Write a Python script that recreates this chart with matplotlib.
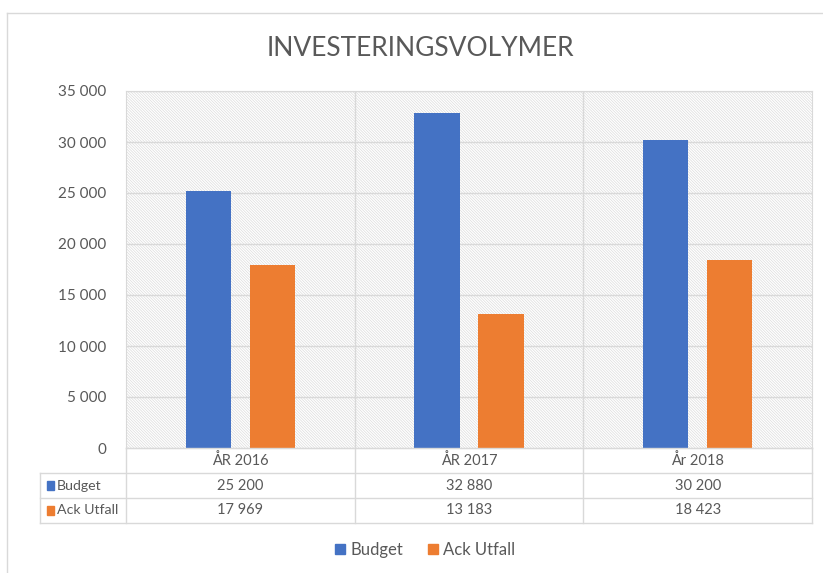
import matplotlib
matplotlib.use("Agg")
import matplotlib.pyplot as plt
from matplotlib.patches import Rectangle
from matplotlib.lines import Line2D

plt.rcParams['font.family'] = ['Lato', 'DejaVu Sans']
plt.rcParams['hatch.linewidth'] = 0.5

# data
years = ["ÅR 2016", "ÅR 2017", "År 2018"]
series_names = ["Budget", "Ack Utfall"]
budget = [25200, 32880, 30200]
utfall = [17969, 13183, 18423]
yticks = [0, 5000, 10000, 15000, 20000, 25000, 30000, 35000]

blue = '#4472c4'
orange = '#ed7d31'
grid = '#d9d9d9'
txt = '#595959'

W, H = 823, 573
fig = plt.figure(figsize=(W / 100, H / 100), dpi=100)

def px(x0, y0, x1, y1):
    # pixel box -> figure fraction rect
    return [x0 / W, 1 - y1 / H, (x1 - x0) / W, (y1 - y0) / H]

# outer border of chart
fig.add_artist(Line2D([7 / W, 7 / W], [0, 1 - 13 / H], color=grid, lw=1))
fig.add_artist(Line2D([7 / W, 1], [1 - 13 / H, 1 - 13 / H], color=grid, lw=1))

ax = fig.add_axes(px(126, 91, 812, 448))
ax.set_xlim(0, 3)
ax.set_ylim(0, 35000)
ax.add_patch(Rectangle((0, 0), 3, 35000, facecolor='white', edgecolor='#dcdcdc',
                       hatch='\\' * 12, lw=0, zorder=0))
for s in ax.spines.values():
    s.set_color(grid)
ax.set_yticks(yticks)
ax.set_yticklabels([f"{v:,}".replace(",", " ") for v in yticks], fontsize=11, color=txt)
ax.tick_params(axis='y', length=0, pad=14)
ax.set_xticks([])
for v in yticks[1:]:
    ax.axhline(v, color=grid, lw=1, zorder=1)
for xv in [1, 2]:
    ax.axvline(xv, color=grid, lw=1, zorder=1)

w = 0.197
xs = [i + 0.5 for i in range(len(years))]
ax.bar([x - 0.14 for x in xs], budget, width=w, color=blue, zorder=3, label=series_names[0])
ax.bar([x + 0.14 for x in xs], utfall, width=w, color=orange, zorder=3, label=series_names[1])

# data table
tb = fig.add_axes(px(126, 448, 812, 523))
tb.set_xlim(0, 3)
tb.set_ylim(0, 3)
tb.axis('off')
left = -86 / 229
for yv in [0, 1, 2]:
    tb.plot([left, 3], [yv, yv], color=grid, lw=1, clip_on=False)
tb.plot([0, 3], [3, 3], color=grid, lw=1, clip_on=False)
tb.plot([left, left], [0, 2], color=grid, lw=1, clip_on=False)
for xv in [0, 1, 2, 3]:
    tb.plot([xv, xv], [0, 3], color=grid, lw=1, clip_on=False)
for i, yr in enumerate(years):
    tb.text(xs[i], 2.5, yr, ha='center', va='center', fontsize=10.5, color=txt)
    tb.text(xs[i], 1.5, f"{budget[i]:,}".replace(",", " "), ha='center', va='center', fontsize=10.5, color=txt)
    tb.text(xs[i], 0.5, f"{utfall[i]:,}".replace(",", " "), ha='center', va='center', fontsize=10.5, color=txt)
for yv, name, c in [(1.5, series_names[0], blue), (0.5, series_names[1], orange)]:
    tb.add_patch(Rectangle((left + 0.03, yv - 0.17), 0.03, 0.34, color=c, clip_on=False))
    tb.text(left + 0.072, yv, name, ha='left', va='center', fontsize=10.2, color=txt)

fig.text(420 / W, 1 - 48 / H, "INVESTERINGSVOLYMER", ha='center', va='center',
         fontsize=19, color=txt)

fig.legend(handles=[Rectangle((0, 0), 1, 1, color=blue), Rectangle((0, 0), 1, 1, color=orange)],
           labels=series_names, loc='center', bbox_to_anchor=(425 / W, 1 - 550 / H), ncol=2,
           frameon=False, fontsize=12, labelcolor=txt, handlelength=0.6, handleheight=0.6,
           handletextpad=0.3, columnspacing=1.5)

fig.savefig("out.png", dpi=100, facecolor='white')
